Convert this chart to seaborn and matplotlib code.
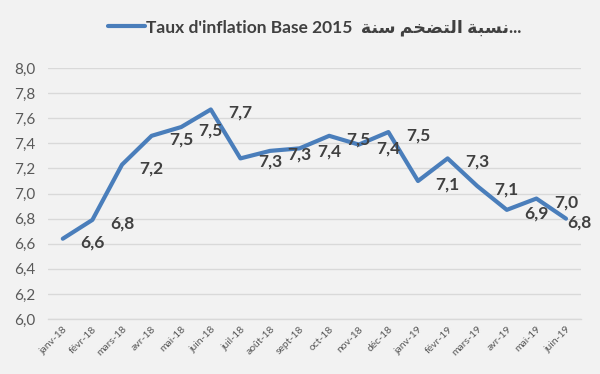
import matplotlib
matplotlib.use("Agg")
import matplotlib.pyplot as plt
import seaborn as sns
import pandas as pd
from matplotlib.ticker import FixedLocator, FuncFormatter, MultipleLocator

months = ["janv-18", "févr-18", "mars-18", "avr-18", "mai-18", "juin-18",
          "juil-18", "août-18", "sept-18", "oct-18", "nov-18", "déc-18",
          "janv-19", "févr-19", "mars-19", "avr-19", "mai-19", "juin-19"]
values = [6.64, 6.79, 7.23, 7.46, 7.53, 7.67, 7.28, 7.34, 7.36, 7.46, 7.39, 7.49,
          7.10, 7.28, 7.06, 6.87, 6.96, 6.80]
series_name = "Taux d'inflation Base 2015  ﺔﻨﺳ ﻢﺨﻀﺘﻟﺍ ﺔﺒﺴﻧ..."

sns.set_theme(style="white")
plt.rcParams["font.family"] = ["Lato", "DejaVu Sans"]

BG = "#f2f2f2"
BLUE = "#4a7ebb"
GRAY = "#595959"
DARK = "#404040"

df = pd.DataFrame({"mois": months, "taux": values, "serie": series_name})

fig = plt.figure(figsize=(6.0, 3.74), dpi=100, facecolor=BG)
ax = fig.add_axes([0.08, 0.147, 0.888, 0.671])
ax.set_facecolor(BG)

sns.lineplot(data=df, x="mois", y="taux", hue="serie", palette=[BLUE],
             linewidth=3, ax=ax, sort=False, legend=True)

ax.set_xlim(-0.5, len(months) - 0.5)
ax.set_ylim(6.0, 8.0)
ax.yaxis.set_major_locator(MultipleLocator(0.2))
ax.yaxis.set_major_formatter(FuncFormatter(lambda v, p: f"{v:.1f}".replace(".", ",")))
ax.grid(axis="y", color="#d9d9d9", linewidth=1)
ax.grid(axis="x", visible=False)
for s in ["left", "right", "top"]:
    ax.spines[s].set_visible(False)
ax.spines["bottom"].set_color("#d9d9d9")
ax.spines["bottom"].set_linewidth(1)
ax.set_xlabel("")
ax.set_ylabel("")

ax.tick_params(axis="y", length=0, labelsize=11, labelcolor=GRAY, pad=9)
ax.set_xticks(range(len(months)))
ax.set_xticklabels(months, rotation=45, ha="right", rotation_mode="anchor",
                   fontsize=7.5, color=GRAY)
ax.tick_params(axis="x", which="major", length=0, pad=4)
ax.xaxis.set_minor_locator(FixedLocator([i - 0.5 for i in range(len(months) + 1)]))
ax.tick_params(axis="x", which="minor", length=4, color="#d9d9d9", width=1)

for i, v in enumerate(values):
    lab = f"{v:.1f}".replace(".", ",")
    xpos = min(i + 1, len(months) - 0.55)
    ax.annotate(lab, (xpos, v), xytext=(0, -2.5), textcoords="offset points",
                ha="center", va="center", fontsize=12.5, fontweight="bold",
                color=DARK, annotation_clip=False)

h, l = ax.get_legend_handles_labels()
ax.legend(h, l, loc="center", bbox_to_anchor=(0.525, 0.927),
          bbox_transform=fig.transFigure, frameon=False, handlelength=2.1,
          handletextpad=0.1, prop={"weight": "bold", "size": 12.5},
          labelcolor=DARK)

fig.savefig("out.png", dpi=100, facecolor=BG)
